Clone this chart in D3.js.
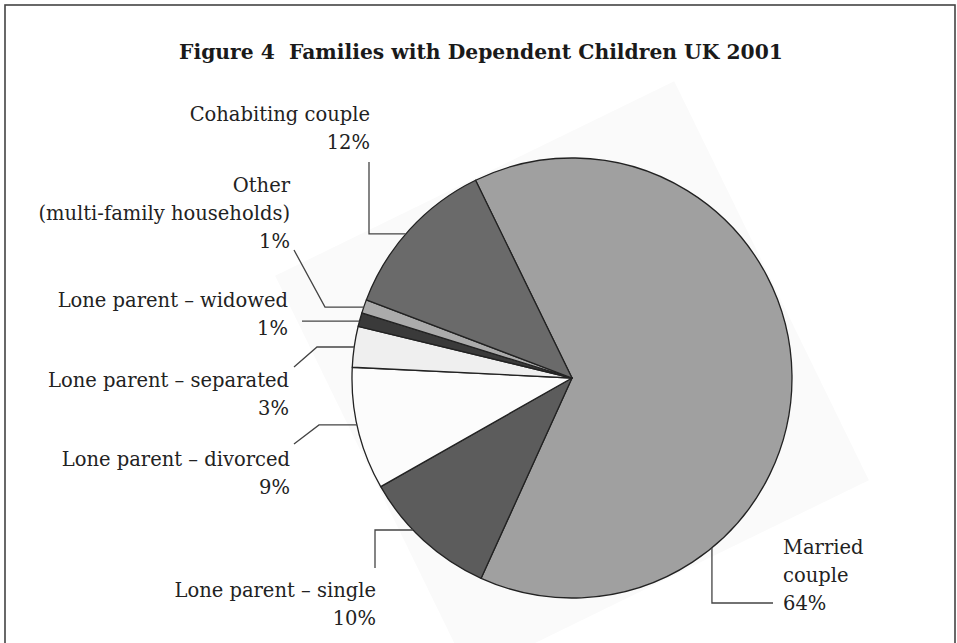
<!DOCTYPE html>
<html>
<head>
<meta charset="utf-8">
<script src="https://cdn.jsdelivr.net/npm/d3@7/dist/d3.min.js"></script>
<style>
  body { margin: 0; background: #fff; }
  svg { display: block; }
</style>
</head>
<body>
<div id="chart"></div>
<script>
// data
var categories = ["Married couple", "Lone parent \u2013 single", "Lone parent \u2013 divorced",
  "Lone parent \u2013 separated", "Lone parent \u2013 widowed",
  "Other (multi-family households)", "Cohabiting couple"];
var shares = [64, 10, 9, 3, 1, 1, 12];
var labelNames = [["Married", "couple"], ["Lone parent \u2013 single"], ["Lone parent \u2013 divorced"],
  ["Lone parent \u2013 separated"], ["Lone parent \u2013 widowed"],
  ["Other", "(multi-family households)"], ["Cohabiting couple"]];
var title = "Figure 4\u00a0 Families with Dependent Children UK 2001";

// styles
var fills = ["#a0a0a0", "#5c5c5c", "#fcfcfc", "#efefef", "#3a3a3a", "#ababab", "#6a6a6a"];

var width = 957, height = 643;
var cx = 572, cy = 378, radius = 220;
var startDeg = -26;

// where each label sits and how its leader bends (angle on the rim, then elbows)
var labelLayout = [
  { angle: 140.5, pts: [[null, 603], [773, 603]], x: 783, y: 554, anchor: "start" },
  { angle: 226.3, pts: [[375, null], [375, 568]], x: 376, y: 597, anchor: "end" },
  { angle: 257.7, pts: [[319, null], [294, 444]], x: 290, y: 466, anchor: "end" },
  { angle: 278.1, pts: [[317, null], [294, 367]], x: 289, y: 387, anchor: "end" },
  { angle: 285.0, pts: [[302, null]], x: 288, y: 307, anchor: "end" },
  { angle: 288.8, pts: [[325, null], [294, 250]], x: 290, y: 192, anchor: "end" },
  { angle: 310.9, pts: [[369, null], [369, 162]], x: 370, y: 121, anchor: "end" }
];
var lineHeight = 27.8;

var svg = d3.select("#chart")
  .append("svg")
  .attr("width", width)
  .attr("height", height);

// frame (bottom edge runs off the picture)
svg.append("rect")
  .attr("x", 5)
  .attr("y", 5)
  .attr("width", 950)
  .attr("height", 700)
  .attr("fill", "#fff")
  .attr("stroke", "#444")
  .attr("stroke-width", 1.6);

// faint tilted plot area behind the pie
svg.append("rect")
  .attr("x", cx - 222)
  .attr("y", cy - 222)
  .attr("width", 444)
  .attr("height", 444)
  .attr("fill", "#fafafa")
  .attr("transform", "rotate(" + startDeg + "," + cx + "," + cy + ")");

svg.append("text")
  .attr("x", 481)
  .attr("y", 59)
  .attr("text-anchor", "middle")
  .attr("font-family", "DejaVu Serif")
  .attr("font-weight", "bold")
  .attr("font-size", "20.3px")
  .attr("fill", "#1a1a1a")
  .text(title);

var rad = Math.PI / 180;
var pie = d3.pie()
  .sort(null)
  .value(function(d) { return d; })
  .startAngle(startDeg * rad)
  .endAngle((startDeg + 360) * rad);

var arc = d3.arc()
  .innerRadius(0)
  .outerRadius(radius);

var g = svg.append("g")
  .attr("transform", "translate(" + cx + "," + cy + ")");

g.selectAll("path")
  .data(pie(shares))
  .enter()
  .append("path")
  .attr("d", arc)
  .attr("fill", function(d, i) { return fills[i]; })
  .attr("stroke", "#222")
  .attr("stroke-width", 1.3)
  .attr("stroke-linejoin", "round");

// leaders
var line = d3.line();
labelLayout.forEach(function(lay, i) {
  var a = lay.angle * rad;
  var px = cx + radius * Math.sin(a);
  var py = cy - radius * Math.cos(a);
  var pts = [[px, py]];
  lay.pts.forEach(function(p) {
    pts.push([p[0] === null ? px : p[0], p[1] === null ? py : p[1]]);
  });
  svg.append("path")
    .attr("d", line(pts))
    .attr("fill", "none")
    .attr("stroke", "#444")
    .attr("stroke-width", 1.3);

  var lines = labelNames[i].concat([shares[i] + "%"]);
  var t = svg.append("text")
    .attr("font-family", "DejaVu Serif")
    .attr("font-size", "19.5px")
    .attr("fill", "#222")
    .attr("text-anchor", lay.anchor);
  lines.forEach(function(s, k) {
    t.append("tspan")
      .attr("x", lay.x)
      .attr("y", lay.y + k * lineHeight)
      .text(s);
  });
});
</script>
</body>
</html>
